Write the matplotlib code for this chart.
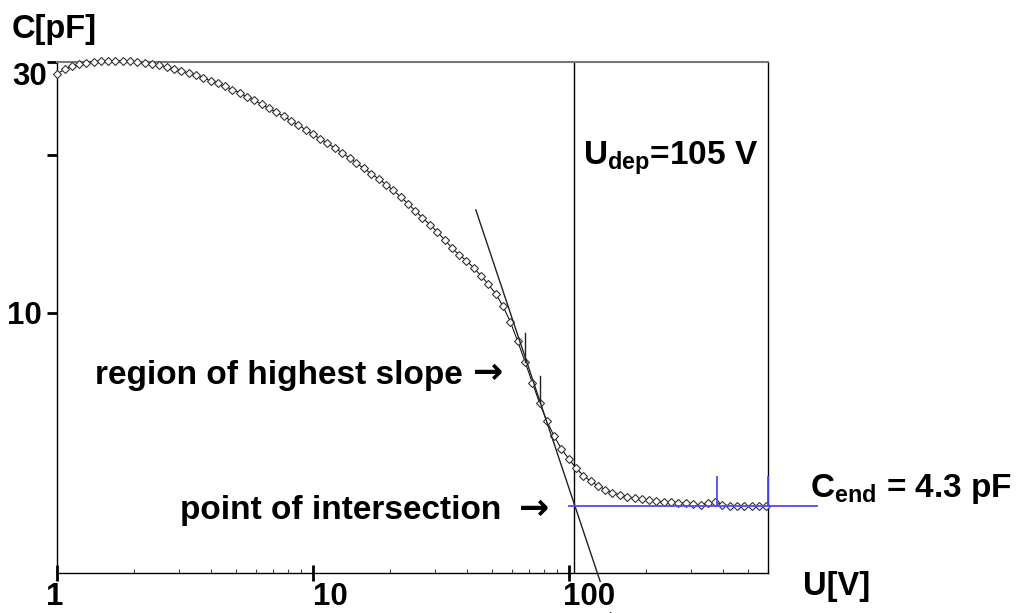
import matplotlib
matplotlib.use("Agg")
import matplotlib.pyplot as plt
import matplotlib.transforms as mtransforms
from matplotlib.ticker import LogLocator, NullLocator, NullFormatter

plt.rcParams.update({
    "font.family": ["Liberation Sans", "DejaVu Sans"],
    "font.weight": "bold",
    "mathtext.fontset": "custom",
    "mathtext.rm": "Liberation Sans:bold",
    "mathtext.it": "Liberation Sans:bold",
    "mathtext.bf": "Liberation Sans:bold",
})

# C-V sweep
U = [1.00, 1.07, 1.14, 1.22, 1.30, 1.39, 1.48, 1.58, 1.69, 1.81,
     1.93, 2.06, 2.20, 2.35, 2.51, 2.68, 2.87, 3.06, 3.27, 3.49,
     3.73, 3.98, 4.25, 4.54, 4.85, 5.18, 5.53, 5.91, 6.31, 6.74,
     7.20, 7.69, 8.21, 8.77, 9.36,
     10.0, 10.7, 11.4, 12.2, 13.0, 13.9, 14.8, 15.8, 16.9, 18.1,
     19.3, 20.6, 22.0, 23.5, 25.1, 26.8, 28.7, 30.6, 32.7, 34.9,
     37.3, 39.8, 42.5, 45.4, 48.5, 51.8, 55.3, 59.1, 63.1, 67.4,
     72.0, 76.9, 82.1, 87.7, 93.6,
     100, 107, 114, 122, 130, 139, 148, 158, 169, 181,
     193, 206, 220, 235, 251, 268, 287, 306, 327, 349,
     373, 398, 425, 454, 485, 518, 553, 591]
C = [28.48, 29.04, 29.42, 29.72, 29.92, 30.06, 30.14, 30.18, 30.19, 30.17,
     30.11, 30.02, 29.90, 29.75, 29.56, 29.36, 29.13, 28.87, 28.60, 28.30,
     27.98, 27.64, 27.31, 26.95, 26.59, 26.22, 25.74, 25.35, 24.91, 24.48,
     24.06, 23.64, 23.20, 22.76, 22.31, 21.85, 21.42, 21.00, 20.58, 20.15,
     19.71, 19.27, 18.83, 18.39, 17.97, 17.54, 17.10, 16.62, 16.13, 15.64,
     15.16, 14.70, 14.26, 13.77, 13.29, 12.89, 12.56, 12.18, 11.76, 11.33,
     10.87, 10.29, 9.61, 8.83, 8.07, 7.36, 6.73, 6.22, 5.82, 5.51,
     5.27, 5.06, 4.90, 4.78, 4.69, 4.61, 4.55, 4.51, 4.47, 4.44,
     4.42, 4.40, 4.38, 4.37, 4.36, 4.35, 4.34, 4.33, 4.31, 4.34,
     4.36, 4.31, 4.30, 4.30, 4.29, 4.29, 4.29, 4.29]

U_dep = 105
C_end = 4.3

# straight-line fit through the steepest part
tangent_U = [43.3, 146]
tangent_C = [15.7, 2.68]
fit_marks_U = [67.4, 76.9]
fit_marks_C = [(8.07, 9.16), (6.73, 7.59)]

# plateau used for C_end
cend_line_U = [100, 930]
cend_marks_U = [380, 598]
cend_marks_top = 4.88

x_ticks = [1, 10, 100]
x_labels = ["1", "10", "100"]
y_ticks = [10, 20, 30]

W, H = 1027, 613
fig = plt.figure(figsize=(W / 100, H / 100), dpi=100)
ax = fig.add_axes([57 / W, 1 - 573 / H, 711 / W, 511 / H])
ax.set_xscale("log")
ax.set_yscale("log")
ax.set_xlim(1, 600)
ax.set_ylim(3.2, 30)

ax.set_xticks(x_ticks)
ax.xaxis.set_minor_locator(LogLocator(base=10, subs=range(2, 10)))
ax.xaxis.set_minor_formatter(NullFormatter())
ax.set_yticks(y_ticks)
ax.yaxis.set_minor_locator(NullLocator())
ax.tick_params(axis="x", which="major", direction="inout", length=11, width=2,
               labelbottom=False)
ax.tick_params(axis="x", which="minor", direction="in", length=3, width=0.8,
               color="#444444")
ax.tick_params(axis="y", which="major", direction="out", length=7, width=2,
               labelleft=False)

ax.spines["top"].set_color("#777777")
ax.spines["top"].set_linewidth(1.5)
for s in ["left", "right", "bottom"]:
    ax.spines[s].set_color("black")
    ax.spines[s].set_linewidth(1)

ax.axvline(U_dep, color="black", lw=1, zorder=2)
ax.plot(U, C, color="black", lw=0.7, marker="D", ms=4.4, mfc="white",
        mec="#333333", mew=0.8, clip_on=False, zorder=3)
ax.plot(tangent_U, tangent_C, color="#222222", lw=1, clip_on=False, zorder=4)
for u, (c0, c1) in zip(fit_marks_U, fit_marks_C):
    ax.plot([u, u], [c0, c1], color="#222222", lw=1, zorder=4)

blue = "#4a4aff"
ax.plot(cend_line_U, [C_end, C_end], color=blue, lw=1.3, clip_on=False, zorder=5)
for u in cend_marks_U:
    ax.plot([u, u], [C_end, cend_marks_top], color=blue, lw=1.3,
            clip_on=False, zorder=5)

# tick labels
tx = mtransforms.blended_transform_factory(ax.transData, ax.transAxes)
x_offsets = [(-2, "center"), (0, "left"), (-6, "left")]
for xv, lab, (dx, ha) in zip(x_ticks, x_labels, x_offsets):
    tr = mtransforms.offset_copy(tx, fig=fig, x=dx, y=-32, units="dots")
    ax.text(xv, 0, lab, transform=tr, ha=ha, va="baseline", fontsize=22.5,
            zorder=6, bbox=dict(facecolor="white", edgecolor="none", pad=0))

ty = mtransforms.blended_transform_factory(ax.transAxes, ax.transData)
for yv, lab, dx, dy in [(30, "30", -10, -23), (10, "10", -15, -11)]:
    tr = mtransforms.offset_copy(ty, fig=fig, x=dx, y=dy, units="dots")
    ax.text(0, yv, lab, transform=tr, ha="right", va="baseline", fontsize=22.5)


def fx(px):
    return px / W


def fy(py):
    return 1 - py / H


fs = 24
fig.text(fx(12), fy(38), "C[pF]", fontsize=23.5, va="baseline")
fig.text(fx(803), fy(595), "U[V]", fontsize=23.5, va="baseline")
fig.text(fx(583), fy(165), r"U$_{\rm dep}$=105 V", fontsize=fs, va="baseline")
fig.text(fx(810), fy(497), r"C$_{\rm end}$ = 4.3 pF", fontsize=fs,
         va="baseline")
fig.text(fx(95), fy(384), "region of highest slope", fontsize=fs,
         va="baseline")
fig.text(fx(180), fy(519), "point of intersection", fontsize=fs,
         va="baseline")
# arrows drawn with DejaVu, whose arrow glyph is wide like the original's
arrow_kw = dict(fontsize=26, family="DejaVu Sans", weight="bold",
                ha="left", va="center")
fig.text(fx(473), fy(373), "\u2192", **arrow_kw)
fig.text(fx(519), fy(509), "\u2192", **arrow_kw)

fig.savefig("out.png", dpi=100, facecolor="white")
